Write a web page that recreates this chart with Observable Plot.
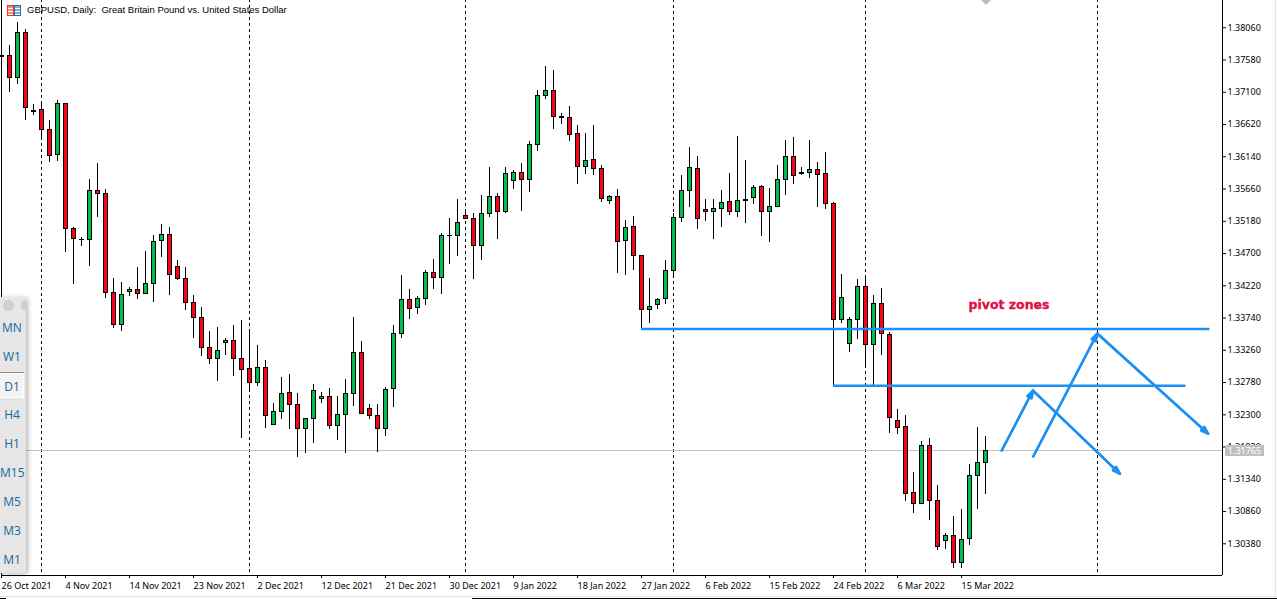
<!DOCTYPE html>
<html>
<head>
<meta charset="utf-8">
<script src="https://cdn.jsdelivr.net/npm/d3@7"></script>
<script src="https://cdn.jsdelivr.net/npm/@observablehq/plot@0.6"></script>
<style>
html,body{margin:0;padding:0;background:#fff;overflow:hidden}
#root{position:relative;width:1277px;height:599px;overflow:hidden;font-family:"Noto Sans",sans-serif}
#root svg.plot{display:block;position:absolute;left:0;top:0;background:transparent}
.abs{position:absolute;box-sizing:border-box}
.tf{position:absolute;left:0;width:24px;text-align:center;font:12px/14px "Open Sans",sans-serif;color:#15689f}
</style>
</head>
<body>
<div id="root"></div>
<script>
const open = [
1.37640,1.37640,1.37313,1.37982,1.36821,1.36836,1.36539,1.36166,1.36926,1.35065,
1.34908,1.34901,1.35631,1.35586,1.34112,1.33636,1.34127,1.34157,1.34098,1.34246,
1.34886,1.34976,1.34499,1.34321,1.33964,1.33740,1.33294,1.33130,1.33368,1.33398,
1.33130,1.32981,1.32773,1.32996,1.32148,1.32341,1.32624,1.32445,1.32088,1.32237,
1.32535,1.32565,1.32133,1.32297,1.32609,1.33219,1.32386,1.32282,1.32088,1.32684,
1.33502,1.34008,1.33889,1.34023,1.34410,1.34336,1.34961,1.34961,1.35259,1.35214,
1.34812,1.35288,1.35541,1.35318,1.35779,1.35899,1.35794,1.36315,1.37045,1.37119,
1.36736,1.36717,1.36479,1.35988,1.36092,1.35958,1.35482,1.35541,1.34886,1.35095,
1.34663,1.33859,1.33934,1.34023,1.34440,1.35229,1.35631,1.35958,1.35348,1.35318,
1.35363,1.35467,1.35318,1.35496,1.35526,1.35690,1.35318,1.35393,1.35794,1.36137,
1.35903,1.35899,1.35943,1.35884,1.35437,1.33711,1.33353,1.33711,1.34202,1.33339,
1.33949,1.33487,1.32207,1.32118,1.31136,1.30972,1.31835,1.31017,1.30421,1.30496,
1.30094,1.30451,1.31389,1.31582];
const high = [
1.37640,1.37797,1.38139,1.38034,1.36918,1.36952,1.36680,1.36978,1.36933,1.35087,
1.34939,1.35802,1.36040,1.35653,1.34328,1.34269,1.34194,1.34492,1.34730,1.34968,
1.35132,1.35087,1.34596,1.34492,1.34075,1.33892,1.33535,1.33595,1.33435,1.33629,
1.33699,1.33565,1.33331,1.33108,1.32463,1.32850,1.32895,1.32612,1.32237,1.32746,
1.32632,1.32687,1.32572,1.32821,1.33748,1.33386,1.32448,1.32448,1.32701,1.33624,
1.34368,1.34160,1.34056,1.34443,1.34607,1.34994,1.35221,1.35504,1.35355,1.35291,
1.35564,1.35976,1.35589,1.35976,1.35931,1.36035,1.36363,1.37122,1.37484,1.37420,
1.36780,1.36884,1.36601,1.36482,1.36601,1.36006,1.35559,1.35649,1.35187,1.35247,
1.34663,1.34324,1.34026,1.34592,1.35296,1.35857,1.36274,1.36140,1.35500,1.35500,
1.35634,1.35887,1.36437,1.36080,1.35708,1.35708,1.35663,1.36006,1.36378,1.36422,
1.35980,1.36378,1.36050,1.36199,1.35455,1.34383,1.33743,1.34309,1.34373,1.34071,
1.34175,1.33520,1.32374,1.32285,1.31436,1.31898,1.31942,1.31243,1.30528,1.30781,
1.30886,1.31555,1.32106,1.31972];
const low = [
1.37625,1.37097,1.37216,1.36680,1.36754,1.36382,1.36055,1.36070,1.34715,1.34239,
1.34805,1.34507,1.35236,1.34031,1.33589,1.33544,1.34060,1.34016,1.34098,1.33971,
1.34641,1.34075,1.34299,1.33852,1.33440,1.33172,1.33048,1.32795,1.33182,1.32870,
1.31951,1.32627,1.32725,1.32100,1.32148,1.32230,1.32085,1.31669,1.31728,1.31877,
1.32472,1.32085,1.31922,1.31728,1.32423,1.32312,1.32234,1.31743,1.31981,1.32413,
1.33440,1.33722,1.33797,1.33931,1.34169,1.34095,1.34541,1.34660,1.35206,1.34318,
1.34601,1.35232,1.34913,1.35291,1.35649,1.35330,1.35613,1.36223,1.36997,1.36542,
1.36616,1.36372,1.35732,1.35881,1.35866,1.35464,1.35434,1.34407,1.34377,1.34452,
1.33580,1.33663,1.33871,1.33946,1.34333,1.35166,1.35390,1.35062,1.35181,1.34913,
1.35092,1.35270,1.35241,1.35151,1.35434,1.34958,1.34869,1.35393,1.35568,1.35732,
1.35866,1.35821,1.35390,1.35360,1.32731,1.33663,1.33231,1.33425,1.32993,1.32731,
1.33187,1.32026,1.32011,1.31014,1.30835,1.30972,1.30731,1.30284,1.30299,1.30016,
1.30016,1.30359,1.30895,1.31118];
const close = [
1.37625,1.37313,1.37982,1.36866,1.36807,1.36539,1.36152,1.36926,1.35065,1.34916,
1.34894,1.35631,1.35586,1.34112,1.33636,1.34083,1.34157,1.34098,1.34246,1.34872,
1.34976,1.34380,1.34321,1.33964,1.33740,1.33294,1.33130,1.33249,1.33398,1.33130,
1.32966,1.32773,1.32996,1.32282,1.32341,1.32609,1.32445,1.32088,1.32237,1.32654,
1.32565,1.32133,1.32297,1.32609,1.33219,1.32312,1.32282,1.32088,1.32669,1.33502,
1.34008,1.33874,1.34023,1.34410,1.34336,1.34961,1.34959,1.35154,1.35214,1.34812,
1.35288,1.35541,1.35318,1.35884,1.35899,1.35794,1.36315,1.37045,1.37119,1.36732,
1.36722,1.36464,1.35988,1.36077,1.35958,1.35512,1.35541,1.34872,1.35080,1.34663,
1.33859,1.33904,1.34008,1.34440,1.35229,1.35631,1.35973,1.35214,1.35318,1.35363,
1.35452,1.35318,1.35482,1.35482,1.35675,1.35318,1.35393,1.35794,1.36137,1.35854,
1.35889,1.35943,1.35869,1.35437,1.33711,1.34038,1.33711,1.34202,1.33339,1.33949,
1.33502,1.32252,1.32103,1.31121,1.30972,1.31835,1.31017,1.30332,1.30496,1.30094,
1.30436,1.31389,1.31582,1.31765];

const priceTicks = [1.38060,1.37580,1.37100,1.36620,1.36140,1.35660,1.35180,1.34700,1.34220,1.33740,1.33260,1.32780,1.32300,1.31820,1.31340,1.30860,1.30380];
const dateTicks = [0,8,16,24,32,40,48,56,64,72,80,88,96,104,112,120];
const dateLabels = ["26 Oct 2021","4 Nov 2021","14 Nov 2021","23 Nov 2021","2 Dec 2021","12 Dec 2021","21 Dec 2021","30 Dec 2021","9 Jan 2022","18 Jan 2022","27 Jan 2022","6 Feb 2022","15 Feb 2022","24 Feb 2022","6 Mar 2022","15 Mar 2022"];
const monthSeparators = [5,31,58,84,108,137];
const lastPrice = 1.31765;
const pivotLevels = [{x1:80,x2:151.06,y:1.33576},{x1:104,x2:148.06,y:1.32732}];
const arrows = [
 {x1:125.03,y1:1.31768,x2:128.94,y2:1.32661},
 {x1:128.94,y1:1.32661,x2:139.81,y2:1.31421},
 {x1:128.97,y1:1.31679,x2:136.97,y2:1.33510},
 {x1:136.97,y1:1.33510,x2:150.85,y2:1.32017}
];
const timeframes = ["MN","W1","D1","H4","H1","M15","M5","M3","M1"];
const timeframeRows = [328,357,387,414.5,443.5,472.5,501.5,530.5,559.5];

const candles = open.map((o,i)=>({i,o,h:high[i],l:low[i],c:close[i],dir:close[i]>=o?"up":"down"}));
const axisFont = '"Noto Sans",sans-serif';
const blue = "#1c90f3";

const chart = Plot.plot({
  width:1277,height:599,
  marginLeft:1,marginRight:55,marginTop:0,marginBottom:24,
  style:{background:"transparent",fontFamily:axisFont},
  x:{type:"linear",domain:[0,152.625],range:[1,1222]},
  y:{type:"linear",domain:[1.29908,1.38466],range:[575,0]},
  color:{domain:["up","down"],range:["#00bd50","#ff0018"]},
  marks:[
    Plot.ruleX(monthSeparators,{x:d=>d,y1:1.2996,y2:1.38466,stroke:"#000",strokeWidth:1,strokeDasharray:"3 3",shapeRendering:"crispEdges"}),
    Plot.ruleY([lastPrice],{y:d=>d,x1:0,x2:152.625,stroke:"#c0c0c0",strokeWidth:1,shapeRendering:"crispEdges"}),
    Plot.ruleX(candles,{x:"i",y1:"l",y2:"h",stroke:"#000",strokeWidth:1,shapeRendering:"crispEdges"}),
    Plot.rect(candles,{x1:d=>d.i-0.25,x2:d=>d.i+0.25,y1:"o",y2:"c",fill:"dir",stroke:"#000",strokeWidth:1,dx:0.5,shapeRendering:"crispEdges"}),
    Plot.ruleX([0],{stroke:"#000",strokeWidth:1,shapeRendering:"crispEdges"}),
    Plot.ruleX([152.625],{stroke:"#000",strokeWidth:1,shapeRendering:"crispEdges"}),
    Plot.ruleY([1.29908],{x1:0,x2:152.625,stroke:"#000",strokeWidth:1,shapeRendering:"crispEdges"}),
    Plot.axisY({anchor:"right",ticks:priceTicks,tickFormat:d3.format(".5f"),tickSize:3,tickPadding:2,fontSize:9,label:null,stroke:"#000",fill:"#000"}),
    Plot.axisX({anchor:"bottom",ticks:dateTicks,tickFormat:d=>dateLabels[dateTicks.indexOf(d)],tickSize:3,tickPadding:4,fontSize:9,textAnchor:"start",label:null,stroke:"#000",fill:"#000"}),
    Plot.ruleY(pivotLevels,{x1:"x1",x2:"x2",y:"y",stroke:blue,strokeWidth:2.4}),
    Plot.arrow(arrows,{x1:"x1",y1:"y1",x2:"x2",y2:"y2",stroke:blue,strokeWidth:2.4,headLength:5,headAngle:36,bend:0}),
    Plot.arrow(arrows,{x1:"x1",y1:"y1",x2:"x2",y2:"y2",stroke:blue,strokeWidth:2.4,headLength:5,headAngle:16,bend:0}),
    Plot.text(["pivot zones"],{x:125.94,y:1.33934,text:d=>d,fill:"#e0103f",stroke:"#e0103f",strokeWidth:0.35,fontWeight:"bold",fontSize:12.5,fontFamily:"DejaVu Sans"})
  ]
});

const root = document.getElementById("root");
root.appendChild(chart);

function box(css,html){const d=document.createElement("div");d.className="abs";d.style.cssText=css;if(html)d.innerHTML=html;root.appendChild(d);return d;}

// window chrome
box("left:1275px;top:0;width:1px;height:597px;background:#e4e4e4");
box("left:0;top:596px;width:1277px;height:1px;background:#e4e4e4");
box("left:0;top:598px;width:6px;height:1px;background:#000");
box("left:472px;top:598px;width:805px;height:1px;background:#000");
// small marker at the top
box("left:981px;top:0;width:10px;height:5px;background:#bbb;clip-path:polygon(0 0,100% 0,50% 100%)");
// title
box("left:7px;top:5px;width:7px;height:11px;border:1px solid #e8382c;background:repeating-linear-gradient(#f58a80 0 2px,#fff 2px 3px)");
box("left:14px;top:5px;width:7px;height:11px;border:1px solid #1b6eb0;background:repeating-linear-gradient(#7fb0d8 0 2px,#fff 2px 3px)");
box('left:27px;top:3px;font:9.5px/14px "Liberation Sans",sans-serif;color:#000;white-space:pre',"GBPUSD, Daily:  Great Britain Pound vs. United States Dollar");
// last price label
box('left:1225px;top:445px;width:39px;height:11px;background:#c0c0c0;color:#fff;font:9px/11px "Noto Sans",sans-serif;text-align:center',"1.31765");
// timeframe panel
const panel = box("left:-2px;top:297px;width:28px;height:276px;background:#e6e6e6;border-radius:4px;box-shadow:2px 1px 5px rgba(0,0,0,.28)");
box("left:3px;top:300px;width:11px;height:11px;border-radius:50%;background:#cfcfcf");
box("left:21px;top:300px;width:5px;height:11px;border-radius:6px 0 0 6px;background:#cfcfcf");
box("left:0;top:372px;width:24px;height:1px;background:#8a8a8a");
box("left:0;top:373px;width:24px;height:25px;background:#f3f3f3;border:1px solid #fff;border-left:0");
timeframes.forEach((t,k)=>{const d=document.createElement("div");d.className="tf";d.style.top=(timeframeRows[k]-7)+"px";d.textContent=t;root.appendChild(d);});
</script>
</body>
</html>
